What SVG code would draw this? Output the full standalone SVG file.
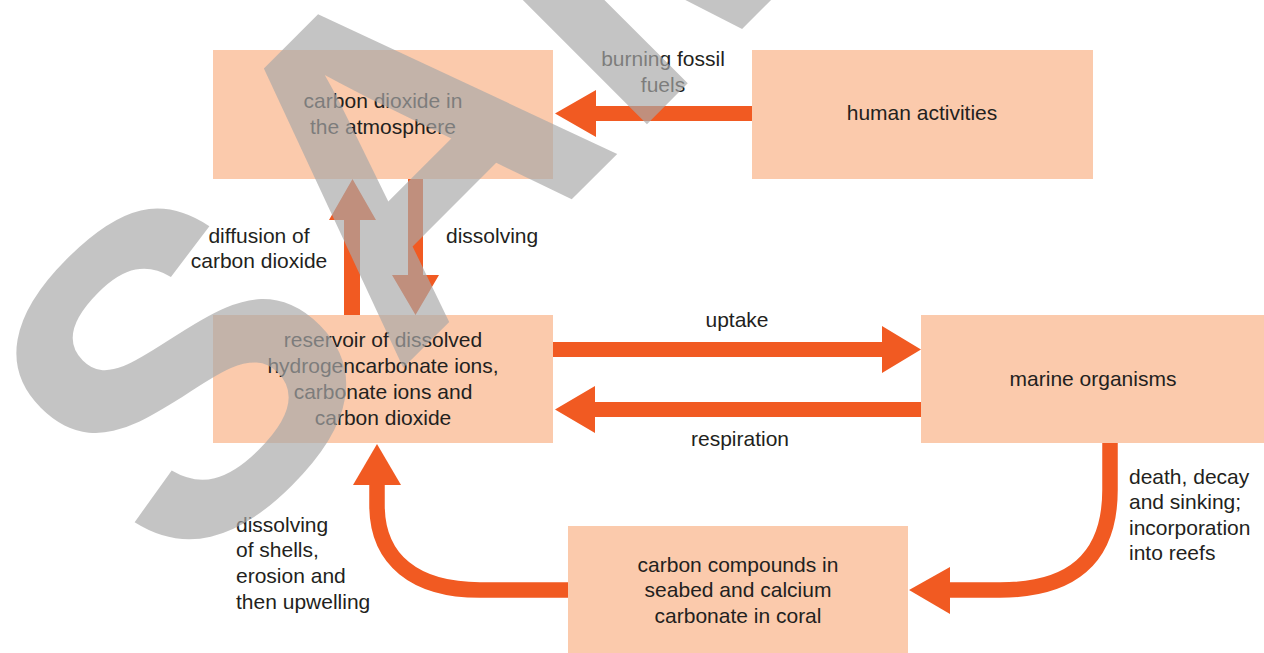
<svg xmlns="http://www.w3.org/2000/svg" width="1264" height="653" viewBox="0 0 1264 653">
  <style>
    .box { fill: #FBCAAC; }
    .arrow { fill: #F15A22; }
    .flow { fill: none; stroke: #F15A22; stroke-width: 15.5; }
    text { font-family: "Liberation Sans", Arial, Helvetica, sans-serif; font-size: 21px; fill: #231F20; }
    .c { text-anchor: middle; }
    text.mark { font-weight: bold; font-size: 451px; fill: #A8A8A8; fill-opacity: 0.68; }
  </style>
  <rect width="1264" height="653" fill="#FFFFFF"/>

  <!-- connectors -->
  <g id="connectors">
    <!-- burning fossil fuels -->
    <polygon class="arrow" points="752,106 596,106 596,90 555,113.5 596,137 596,121 752,121"/>
    <text class="c" x="663" y="66">burning fossil</text>
    <text class="c" x="663" y="92">fuels</text>
    <!-- diffusion of carbon dioxide (up) -->
    <polygon class="arrow" points="344,315 344,220 329,220 352.5,179 376,220 360,220 360,315"/>
    <text class="c" x="259" y="243">diffusion of</text>
    <text class="c" x="259" y="268">carbon dioxide</text>
    <!-- dissolving (down) -->
    <polygon class="arrow" points="408,179 408,275 392,275 415.5,315 439,275 423,275 423,179"/>
    <text x="446" y="243">dissolving</text>
    <!-- uptake -->
    <polygon class="arrow" points="553,342 882,342 882,326 921,349.5 882,373 882,357 553,357"/>
    <text class="c" x="737" y="327">uptake</text>
    <!-- respiration -->
    <polygon class="arrow" points="921,402 595,402 595,386 555,409.5 595,433 595,417 921,417"/>
    <text class="c" x="740" y="446">respiration</text>
    <!-- death, decay and sinking -->
    <path class="flow" d="M1110 443 L1110 490 C1110 560 1070 590 1000 590 L949 590"/>
    <polygon class="arrow" points="950,567 909,590 950,614"/>
    <text x="1129" y="484">death, decay</text>
    <text x="1129" y="509">and sinking;</text>
    <text x="1129" y="535">incorporation</text>
    <text x="1129" y="560">into reefs</text>
    <!-- dissolving of shells, upwelling -->
    <path class="flow" d="M568 590 L480 590 C415 590 377 560 377 505 L377 484"/>
    <polygon class="arrow" points="353,485 377,444 401,485"/>
    <text x="236" y="532">dissolving</text>
    <text x="236" y="557">of shells,</text>
    <text x="236" y="583">erosion and</text>
    <text x="236" y="609">then upwelling</text>
  </g>

  <g id="atmosphere">
    <rect class="box" x="213" y="50" width="340" height="129"/>
    <text class="c" x="383" y="108">carbon dioxide in</text>
    <text class="c" x="383" y="134">the atmosphere</text>
  </g>
  <g id="human-activities">
    <rect class="box" x="752" y="50" width="341" height="129"/>
    <text class="c" x="922" y="120">human activities</text>
  </g>
  <g id="reservoir">
    <rect class="box" x="213" y="315" width="340" height="128"/>
    <text class="c" x="383" y="347">reservoir of dissolved</text>
    <text class="c" x="383" y="373">hydrogencarbonate ions,</text>
    <text class="c" x="383" y="399">carbonate ions and</text>
    <text class="c" x="383" y="425">carbon dioxide</text>
  </g>
  <g id="marine-organisms">
    <rect class="box" x="921" y="315" width="343" height="128"/>
    <text class="c" x="1093" y="386">marine organisms</text>
  </g>
  <g id="carbon-compounds">
    <rect class="box" x="568" y="526" width="340" height="127"/>
    <text class="c" x="738" y="572">carbon compounds in</text>
    <text class="c" x="738" y="597">seabed and calcium</text>
    <text class="c" x="738" y="623">carbonate in coral</text>
  </g>

  <!-- watermark, set diagonally across the page -->
  <text class="mark" id="watermark" transform="translate(182.6 588.5) rotate(-45)">SAMPLE</text>
</svg>
